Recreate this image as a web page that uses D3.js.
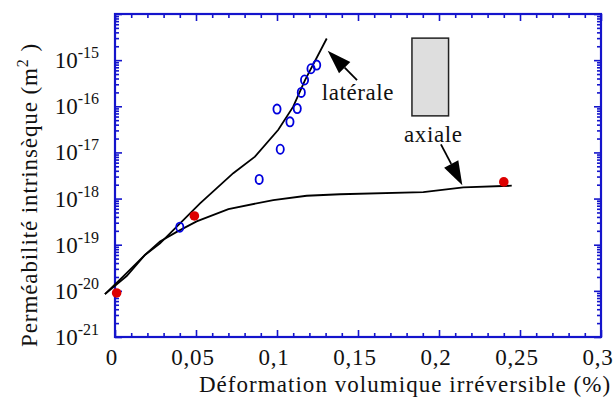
<!DOCTYPE html>
<html>
<head>
<meta charset="utf-8">
<script src="https://cdn.jsdelivr.net/npm/d3@7"></script>
<style>
  html, body { margin: 0; padding: 0; background: #fff; }
</style>
</head>
<body>
<svg id="chart" width="614" height="398"></svg>
<script>
// Measured permeability vs irreversible volumetric strain
const axialPoints = [
  { x: 0.001, k: 9.0e-21 },
  { x: 0.049, k: 4.2e-19 },
  { x: 0.240, k: 2.3e-18 }
];
const lateralPoints = [
  { x: 0.040, k: 2.4e-19 },
  { x: 0.089, k: 2.6e-18 },
  { x: 0.102, k: 1.17e-17 },
  { x: 0.100, k: 8.7e-17 },
  { x: 0.108, k: 4.6e-17 },
  { x: 0.1125, k: 8.9e-17 },
  { x: 0.115, k: 2.0e-16 },
  { x: 0.117, k: 3.7e-16 },
  { x: 0.121, k: 6.5e-16 },
  { x: 0.1245, k: 7.8e-16 }
];
// Model curves
const lateralCurve = [
  { x: -0.0062, k: 8.5e-21 },
  { x: 0.0072, k: 2.1e-20 },
  { x: 0.0185, k: 6.0e-20 },
  { x: 0.0278, k: 1.07e-19 },
  { x: 0.0525, k: 7.9e-19 },
  { x: 0.073, k: 3.55e-18 },
  { x: 0.0864, k: 8.1e-18 },
  { x: 0.1008, k: 3.1e-17 },
  { x: 0.110, k: 9.8e-17 },
  { x: 0.1173, k: 3.7e-16 },
  { x: 0.1307, k: 2.95e-15 }
];
const axialCurve = [
  { x: -0.0062, k: 8.5e-21 },
  { x: 0.0051, k: 2.05e-20 },
  { x: 0.0185, k: 6.0e-20 },
  { x: 0.0278, k: 1.18e-19 },
  { x: 0.0381, k: 1.9e-19 },
  { x: 0.0504, k: 3.2e-19 },
  { x: 0.070, k: 5.9e-19 },
  { x: 0.0977, k: 9.3e-19 },
  { x: 0.1183, k: 1.15e-18 },
  { x: 0.1389, k: 1.24e-18 },
  { x: 0.1903, k: 1.38e-18 },
  { x: 0.215, k: 1.74e-18 },
  { x: 0.2449, k: 1.9e-18 }
];
const xTickValues = [0, 0.05, 0.1, 0.15, 0.2, 0.25, 0.3];
const xTickLabels = ["0", "0,05", "0,1", "0,15", "0,2", "0,25", "0,3"];
const yDecades = [-21, -20, -19, -18, -17, -16, -15];
const xTitle = "Déformation volumique irréversible (%)";

const FONT = '"Liberation Serif", serif';
const svg = d3.select("#chart");
const m = { left: 115, top: 14, right: 601, bottom: 337 };
const blue = "#1414cc";

const x = d3.scaleLinear().domain([0, 0.3]).range([m.left, m.right]);
const y = d3.scaleLog().domain([1e-21, 1e-14]).range([m.bottom, m.top]);

// Tick values
const xMinor = d3.range(0, 0.3001, 0.01).filter(v => Math.abs(v * 20 - Math.round(v * 20)) > 1e-6);
const yMinor = [];
for (let d = -21; d < -14; d++) for (let k = 2; k <= 9; k++) yMinor.push(k * Math.pow(10, d));
const yMajor = d3.range(-21, -13).map(d => Math.pow(10, d));

function styleAxis(g) {
  g.select(".domain").remove();
  g.selectAll("line").attr("stroke", blue).attr("stroke-width", 1.6);
  g.selectAll("text").remove();
}

// inward-pointing ticks on all four sides
svg.append("g").attr("transform", `translate(0,${m.bottom})`)
  .call(d3.axisBottom(x).tickValues(xTickValues).tickSize(-7)).call(styleAxis);
svg.append("g").attr("transform", `translate(0,${m.bottom})`)
  .call(d3.axisBottom(x).tickValues(xMinor).tickSize(-4)).call(styleAxis);
svg.append("g").attr("transform", `translate(0,${m.top})`)
  .call(d3.axisTop(x).tickValues(xTickValues).tickSize(-7)).call(styleAxis);
svg.append("g").attr("transform", `translate(0,${m.top})`)
  .call(d3.axisTop(x).tickValues(xMinor).tickSize(-4)).call(styleAxis);
svg.append("g").attr("transform", `translate(${m.left},0)`)
  .call(d3.axisLeft(y).tickValues(yMajor).tickSize(-7)).call(styleAxis);
svg.append("g").attr("transform", `translate(${m.left},0)`)
  .call(d3.axisLeft(y).tickValues(yMinor).tickSize(-4)).call(styleAxis);
svg.append("g").attr("transform", `translate(${m.right},0)`)
  .call(d3.axisRight(y).tickValues(yMajor).tickSize(-7)).call(styleAxis);
svg.append("g").attr("transform", `translate(${m.right},0)`)
  .call(d3.axisRight(y).tickValues(yMinor).tickSize(-4)).call(styleAxis);

// frame
svg.append("rect")
  .attr("x", m.left).attr("y", m.top)
  .attr("width", m.right - m.left).attr("height", m.bottom - m.top)
  .attr("fill", "none").attr("stroke", blue).attr("stroke-width", 2.2);

// x tick labels
svg.append("g").selectAll("text").data(xTickValues).join("text")
  .style("font-family", FONT)
  .attr("x", d => x(d) - 3)
  .attr("y", m.bottom + 28)
  .attr("text-anchor", "middle")
  .attr("font-size", 23)
  .attr("letter-spacing", 0.8)
  .attr("fill", "#111")
  .text((d, i) => xTickLabels[i]);

// y tick labels: 10^n
const yl = svg.append("g").selectAll("text").data(yDecades).join("text")
  .style("font-family", FONT)
  .attr("x", 99)
  .attr("y", d => y(Math.pow(10, d)) + 8)
  .attr("text-anchor", "end")
  .attr("font-size", 23)
  .attr("fill", "#111");
yl.append("tspan").text("10");
yl.append("tspan").attr("dy", -10).attr("font-size", 16).text(d => String(d));

// axis titles
svg.append("text")
  .style("font-family", FONT)
  .attr("x", 405).attr("y", 392)
  .attr("text-anchor", "middle")
  .attr("font-size", 23).attr("letter-spacing", 1.05).attr("fill", "#111")
  .text(xTitle);

const yt = svg.append("text")
  .style("font-family", FONT)
  .attr("transform", "translate(37,195) rotate(-90)")
  .attr("text-anchor", "middle")
  .attr("font-size", 23).attr("letter-spacing", 0.9).attr("fill", "#111");
yt.append("tspan").text("Perméabilité intrinsèque (m");
yt.append("tspan").attr("dy", -9).attr("font-size", 16).text("2");
yt.append("tspan").attr("dy", 9).text(" )");

// model curves
const line = d3.line().x(d => x(d.x)).y(d => y(d.k));
svg.append("path").datum(lateralCurve).attr("d", line)
  .attr("fill", "none").attr("stroke", "#000").attr("stroke-width", 1.8);
svg.append("path").datum(axialCurve).attr("d", line)
  .attr("fill", "none").attr("stroke", "#000").attr("stroke-width", 1.8);

// measurements
svg.append("g").selectAll("ellipse").data(lateralPoints).join("ellipse")
  .attr("cx", d => x(d.x)).attr("cy", d => y(d.k))
  .attr("rx", 3.6).attr("ry", 4.6)
  .attr("fill", "none").attr("stroke", "#0000dd").attr("stroke-width", 1.8);
svg.append("g").selectAll("circle").data(axialPoints).join("circle")
  .attr("cx", d => x(d.x)).attr("cy", d => y(d.k))
  .attr("r", 4.8).attr("fill", "#dd0000");

// annotations
const legendBox = { x0: 0.1833, x1: 0.2059, k0: 3.0e-15, k1: 6.2e-17 };
svg.append("rect")
  .attr("x", x(legendBox.x0)).attr("y", y(legendBox.k0))
  .attr("width", x(legendBox.x1) - x(legendBox.x0))
  .attr("height", y(legendBox.k1) - y(legendBox.k0))
  .attr("fill", "#dedede").attr("stroke", "#222").attr("stroke-width", 1.5);

const labels = [
  { text: "latérale", x: 0.1276, k: 1.4e-16 },
  { text: "axiale", x: 0.1784, k: 1.7e-17 }
];
svg.append("g").selectAll("text").data(labels).join("text")
  .style("font-family", FONT)
  .attr("x", d => x(d.x)).attr("y", d => y(d.k))
  .attr("font-size", 23).attr("letter-spacing", 0.6).attr("fill", "#111")
  .text(d => d.text);

const arrows = [
  { x0: 0.1494, k0: 3.7e-16, x1: 0.1313, k1: 1.6e-15 },
  { x0: 0.2012, k0: 1.5e-17, x1: 0.2144, k1: 1.95e-18 }
];
const ag = svg.append("g");
arrows.forEach(a => {
  const sx = x(a.x0), sy = y(a.k0), tx = x(a.x1), ty = y(a.k1);
  const ang = Math.atan2(ty - sy, tx - sx);
  const L = 24, W = 8;
  const bx = tx - L * Math.cos(ang), by = ty - L * Math.sin(ang);
  ag.append("line").attr("x1", sx).attr("y1", sy).attr("x2", bx).attr("y2", by)
    .attr("stroke", "#000").attr("stroke-width", 1.8);
  const px = -Math.sin(ang) * W, py = Math.cos(ang) * W;
  ag.append("path")
    .attr("d", `M${tx},${ty}L${bx + px},${by + py}L${bx - px},${by - py}Z`)
    .attr("fill", "#000");
});
</script>
</body>
</html>
